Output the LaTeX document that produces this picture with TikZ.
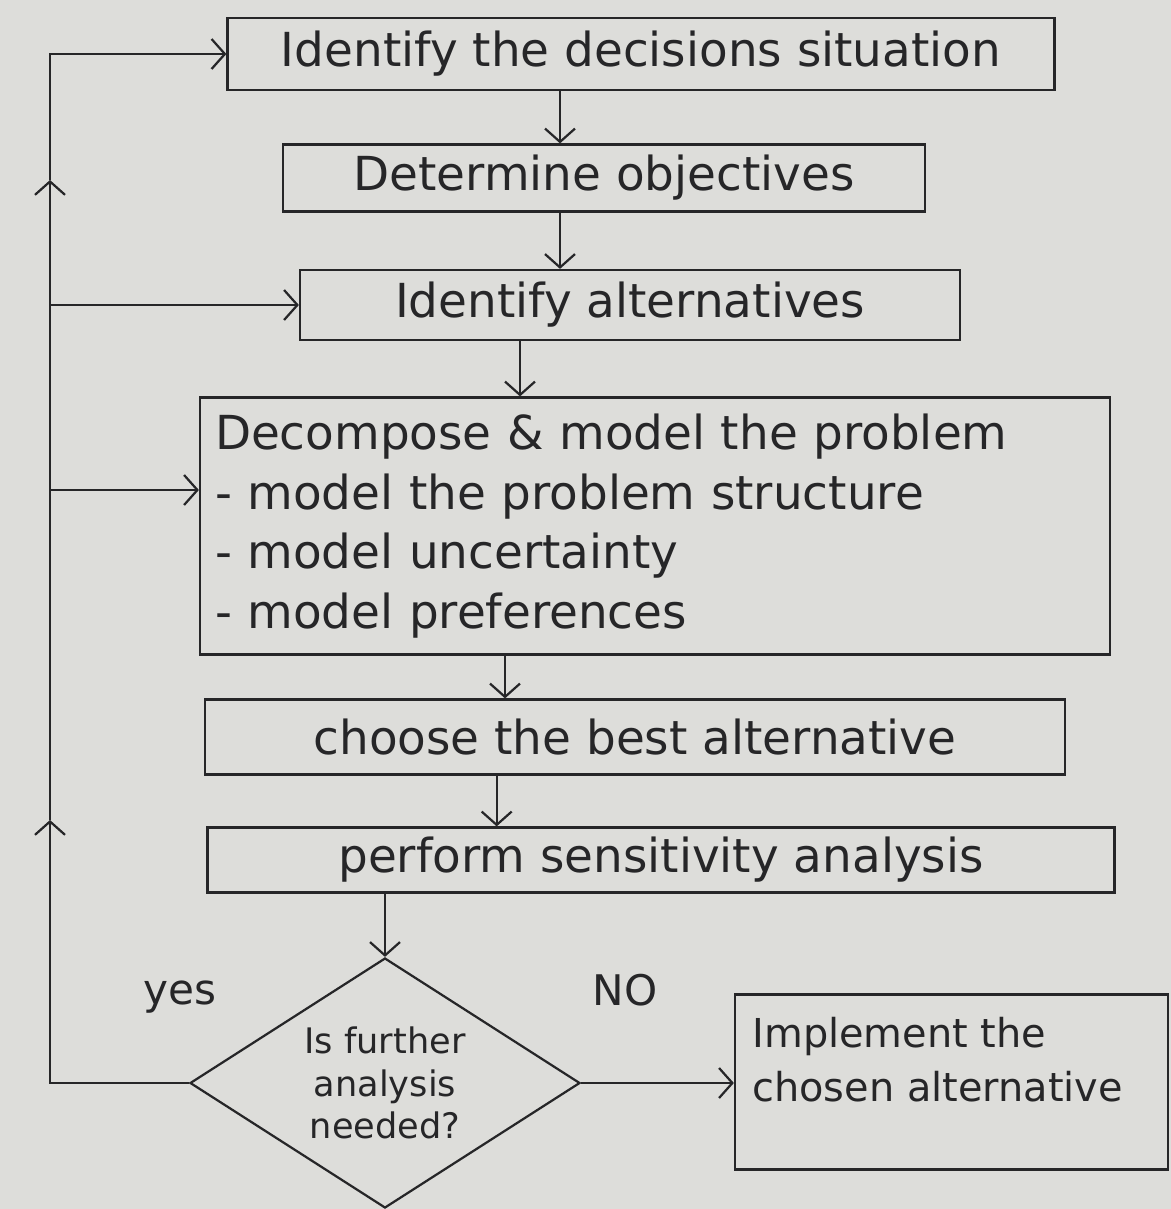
\documentclass[tikz,border=0pt]{standalone}
\usepackage{fontspec}
\setmainfont{DejaVu Sans}
\usetikzlibrary{shapes.geometric,arrows.meta}
\definecolor{paper}{RGB}{221,221,218}
\definecolor{ink}{RGB}{38,38,40}
\begin{document}
\begin{tikzpicture}[
  box/.style={draw=ink, line width=1.9pt, rectangle, inner sep=0pt, text=ink, font=\fontsize{40}{51}\selectfont},
  arr/.style={draw=ink, line width=1.9pt, -{Straight Barb[length=4mm,width=9mm]}},
  lbl/.style={text=ink, inner sep=0pt, font=\fontsize{36}{42}\selectfont},
]
\fill[paper] (0,0) rectangle (35.13,-36.27);
\useasboundingbox (0,0) rectangle (35.13,-36.27);

% boxes
\node[box, minimum width=24.81cm, minimum height=2.16cm] (b1) at (19.23,-1.62) {Identify the decisions situation};
\node[box, minimum width=19.26cm, minimum height=2.01cm] (b2) at (18.12,-5.34) {Determine objectives};
\node[box, minimum width=19.8cm, minimum height=2.1cm] (b3) at (18.9,-9.15) {Identify alternatives};
\node[box, minimum width=27.3cm, minimum height=7.71cm, align=left, text width=26.4cm] (b4) at (19.65,-15.78)
  {Decompose \& model the problem\\- model the problem structure\\- model uncertainty\\- model preferences};
\node[box, minimum width=25.8cm, minimum height=2.25cm] (b5) at (19.05,-22.11) {choose the best alternative};
\node[box, minimum width=27.21cm, minimum height=1.95cm] (b6) at (19.83,-25.8) {perform sensitivity analysis};
\node[diamond, draw=ink, line width=1.9pt, minimum width=11.7cm, minimum height=7.5cm, inner sep=0pt, aspect=1.56,
  align=center, text=ink, font=\fontsize{30}{36}\selectfont] (d) at (11.55,-32.49) {Is further\\analysis\\needed?};
\node[box, minimum width=13.0cm, minimum height=5.25cm] (im) at (28.55,-32.46) {};
\node[lbl, anchor=north west, align=left, font=\fontsize{34}{46}\selectfont] (imt) at ([shift={(0.55,-0.7)}]im.north west)
  {Implement the\\chosen alternative};

% labels
\node[lbl] (yes) at (5.4,-29.9) {yes};
\node[lbl] (no) at (18.75,-29.7) {NO};

% helper coordinates
\coordinate (a1) at (16.8,0);
\coordinate (a3) at (15.6,0);
\coordinate (a4) at (15.15,0);
\coordinate (a5) at (14.9,0);
\coordinate (L) at (1.5,0);
\coordinate (m1) at (1.5,-24.6);
\coordinate (m2) at (1.5,-5.4);
\coordinate (b4in) at ([yshift=1.08cm]b4.west);

% main flow
\draw[arr] (b1.south -| a1) -- (b2.north -| a1);
\draw[arr] (b2.south -| a1) -- (b3.north -| a1);
\draw[arr] (b3.south -| a3) -- (b4.north -| a3);
\draw[arr] (b4.south -| a4) -- (b5.north -| a4);
\draw[arr] (b5.south -| a5) -- (b6.north -| a5);
\draw[arr] (b6.south -| d.north) -- (d.north);
\draw[arr] (d.east) -- (d.east -| im.west);

% feedback loop
\draw[arr] (d.west) -- (d.west -| L) -- (m1);
\draw[arr] (m1) -- (m2);
\draw[arr] (m2) -- (b1.west -| L) -- (b1.west);
\draw[arr] (b3.west -| L) -- (b3.west);
\draw[arr] (b4in -| L) -- (b4in);
\end{tikzpicture}
\end{document}
